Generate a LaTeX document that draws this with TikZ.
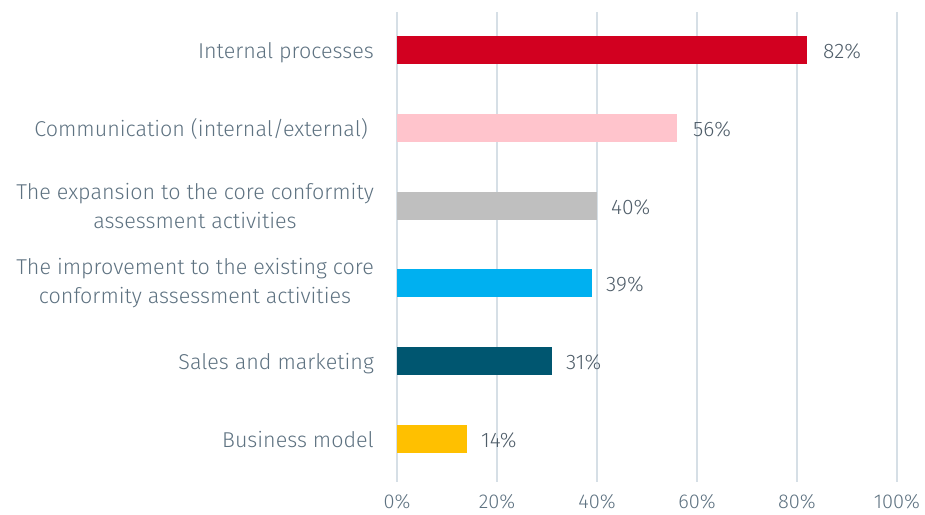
\documentclass[tikz,border=0pt]{standalone}
\usepackage{fontspec}
\setmainfont{Fira Sans Light}
\usetikzlibrary{positioning}

\definecolor{gridgrey}{HTML}{D6DFE6}
\definecolor{labelgrey}{HTML}{5E7281}
\definecolor{pctgrey}{HTML}{4F5D69}
\definecolor{barred}{HTML}{D20020}
\definecolor{barpink}{HTML}{FFC4CC}
\definecolor{bargrey}{HTML}{BFBFBF}
\definecolor{barblue}{HTML}{00B0F0}
\definecolor{barteal}{HTML}{005670}
\definecolor{baryellow}{HTML}{FFC000}

\tikzset{every picture/.style={x=1pt,y=-1pt}}
\tikzset{
  catlabel/.style={anchor=base east, inner sep=0pt, text=labelgrey, font=\fontsize{21.5}{29}\selectfont},
  catlabeltwo/.style={anchor=east, inner sep=0pt, align=center, text=labelgrey, font=\fontsize{21.5}{29}\selectfont},
  pctlabel/.style={anchor=base west, inner sep=0pt, text=pctgrey, font=\fontsize{21}{24}\selectfont},
  ticklabel/.style={anchor=base, inner sep=0pt, text=labelgrey, font=\fontsize{20}{24}\selectfont}
}

\begin{document}
\begin{tikzpicture}
        \useasboundingbox (0,0) rectangle (925,514);
        % Grid lines and axis labels
        \foreach \p in {0,20,...,100} {
            \draw[gridgrey, line width=2pt] (397+5*\p,12) -- (397+5*\p,482);
            \node[ticklabel] (tick\p) at (397+5*\p,508) {\p\%};
        }

        % Bars
        \fill[barred] (397,36) rectangle (807,64);
        \fill[barpink] (397,114) rectangle (677,142);
        \fill[bargrey] (397,192) rectangle (597,220);
        \fill[barblue] (397,269) rectangle (592,297);
        \fill[barteal] (397,347) rectangle (552,375);
        \fill[baryellow] (397,425) rectangle (467,453);

        % Bar ends
        \coordinate (end1) at (807,58);
        \coordinate (end2) at (677,136);
        \coordinate (end3) at (597,214);
        \coordinate (end4) at (592,291);
        \coordinate (end5) at (552,369);
        \coordinate (end6) at (467,447);

        % Values
        \node[right=16pt of end1, pctlabel] (val1) {82\%};
        \node[right=16pt of end2, pctlabel] (val2) {56\%};
        \node[right=14pt of end3, pctlabel] (val3) {40\%};
        \node[right=14pt of end4, pctlabel] (val4) {39\%};
        \node[right=14pt of end5, pctlabel] (val5) {31\%};
        \node[right=14pt of end6, pctlabel] (val6) {14\%};

        % Categories
        \node[catlabel] (internal) at (374,58) {Internal processes};
        \node[catlabel] (communication) at (368,136) {Communication (internal/external)};
        \node[catlabeltwo] (expansion) at (374,206) {The expansion to the core conformity\\assessment activities};
        \node[catlabeltwo] (improvement) at (374,283) {The improvement to the existing core\\conformity assessment activities};
        \node[catlabel] (sales) at (374,369) {Sales and marketing};
        \node[catlabel] (business) at (374,447) {Business model};
\end{tikzpicture}
\end{document}
